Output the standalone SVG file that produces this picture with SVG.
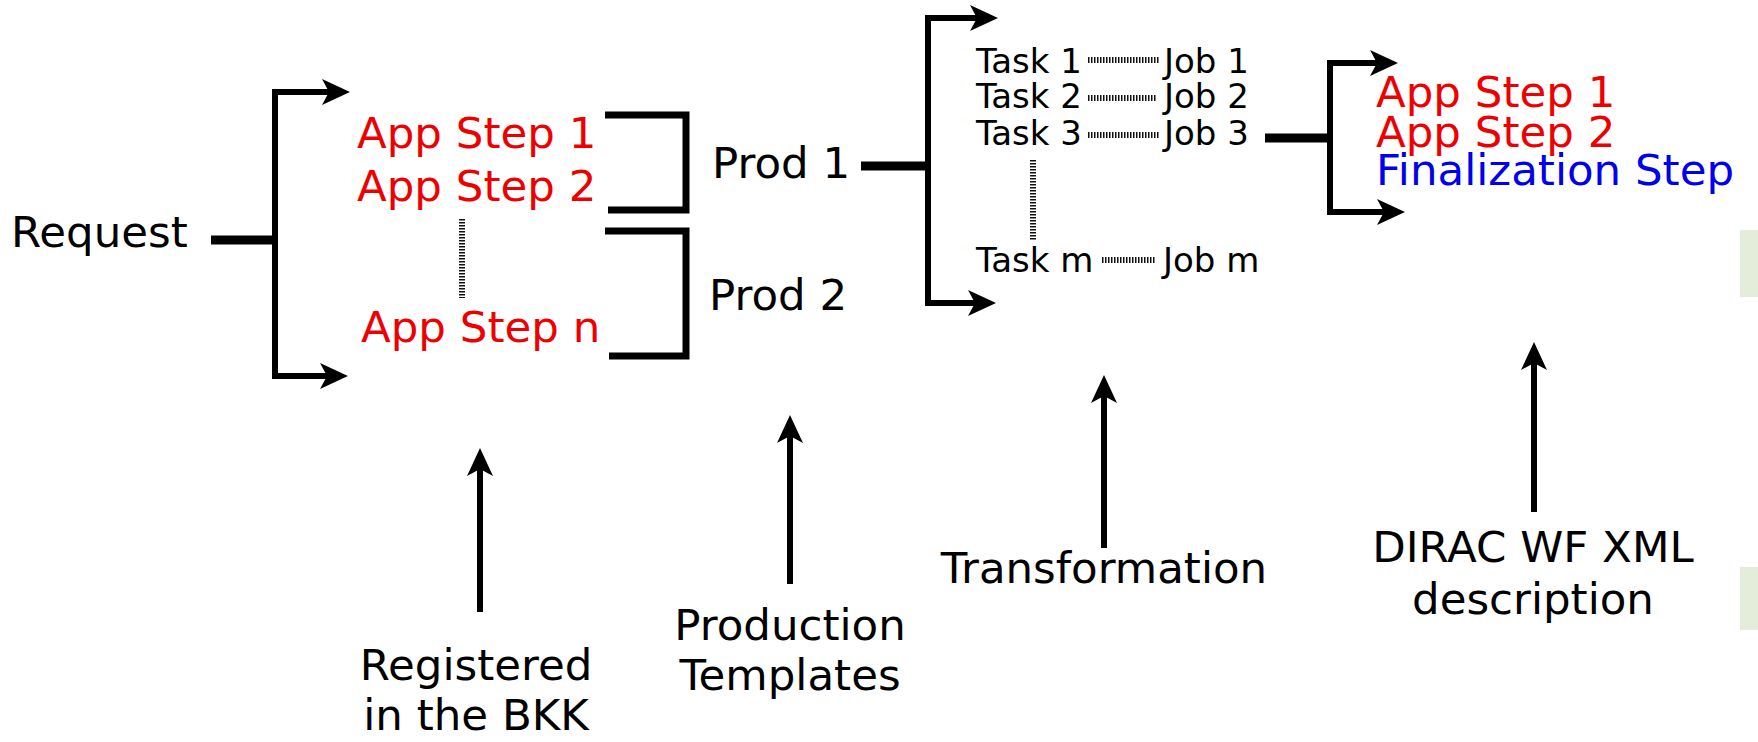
<svg xmlns="http://www.w3.org/2000/svg" width="1758" height="742" viewBox="0 0 1758 742">
  <style>
    text { font-family: "DejaVu Sans", "Liberation Sans", sans-serif; }
    .big { font-size: 43.5px; fill: #000; }
    .small { font-size: 34px; fill: #000; }
    .red { fill: #ee0000; }
    .blue { fill: #0000ee; }
    .mid { text-anchor: middle; }
    .wire { fill: none; stroke: #000; stroke-width: 6; stroke-linejoin: miter; stroke-linecap: butt; }
    .thick { fill: none; stroke: #000; stroke-width: 9; }
    .brace { fill: none; stroke: #000; stroke-width: 7; stroke-linejoin: miter; }
    .dots { fill: none; stroke: #111; stroke-width: 6; stroke-dasharray: 1.5 1.5; }
    .arrow { marker-end: url(#head); }
  </style>
  <defs>
    <marker id="head" markerUnits="userSpaceOnUse" orient="auto" overflow="visible" refX="0" refY="0" markerWidth="40" markerHeight="40">
      <path d="M20,0 L-8,-13 L-1,0 L-8,13 Z" fill="#000"/>
    </marker>
  </defs>

  <!-- side panels -->
  <rect x="1740" y="230" width="18" height="67" fill="#e4ecda"/>
  <rect x="1740" y="567" width="18" height="63" fill="#e4ecda"/>

  <g id="connectors">
    <!-- request fan-out -->
    <path class="thick" d="M211,240 H276"/>
    <path class="wire arrow" d="M275,240 V92 H330"/>
    <path class="wire arrow" d="M275,240 V376 H328"/>
    <!-- app steps grouped into productions -->
    <path class="brace" d="M605,115 H686 V210 H608"/>
    <path class="brace" d="M605,231 H686 V356 H609"/>
    <!-- production fan-out -->
    <path class="thick" d="M861,166 H929"/>
    <path class="wire arrow" d="M928,166 V18 H978"/>
    <path class="wire arrow" d="M928,166 V303 H976"/>
    <!-- job fan-out -->
    <path class="thick" d="M1265,138 H1331"/>
    <path class="wire arrow" d="M1330,138 V63 H1378"/>
    <path class="wire arrow" d="M1330,138 V212 H1385"/>
    <!-- upward pointers -->
    <path class="wire arrow" d="M480,612 V468"/>
    <path class="wire arrow" d="M790,584 V435"/>
    <path class="wire arrow" d="M1104,548 V395"/>
    <path class="wire arrow" d="M1534,512 V362"/>
    <!-- dotted links -->
    <path class="dots" d="M462,219 V298"/>
    <path class="dots" d="M1088,60 H1160"/>
    <path class="dots" d="M1088,98 H1157"/>
    <path class="dots" d="M1088,135 H1160"/>
    <path class="dots" d="M1033,160 V240"/>
    <path class="dots" d="M1102,260 H1156"/>
  </g>

  <g id="request"><text class="big" x="11" y="247">Request</text></g>

  <g id="app-steps">
    <text class="big red" x="357" y="148">App Step 1</text>
    <text class="big red" x="357" y="201">App Step 2</text>
    <text class="big red" x="361" y="342">App Step n</text>
  </g>

  <g id="prod1"><text class="big" x="712" y="178">Prod 1</text></g>
  <g id="prod2"><text class="big" x="709" y="310">Prod 2</text></g>

  <g id="tasks">
    <text class="small" x="976" y="73">Task 1</text>
    <text class="small" x="976" y="108">Task 2</text>
    <text class="small" x="976" y="145">Task 3</text>
    <text class="small" x="976" y="272">Task m</text>
  </g>

  <g id="jobs">
    <text class="small" x="1164" y="73">Job 1</text>
    <text class="small" x="1164" y="108">Job 2</text>
    <text class="small" x="1164" y="145">Job 3</text>
    <text class="small" x="1163" y="272">Job m</text>
  </g>

  <g id="workflow">
    <text class="big red" x="1376" y="107">App Step 1</text>
    <text class="big red" x="1376" y="147">App Step 2</text>
    <text class="big blue" x="1376" y="185">Finalization Step</text>
  </g>

  <g id="label-bkk">
    <text class="big mid" x="476" y="680">Registered</text>
    <text class="big mid" x="476" y="730">in the BKK</text>
  </g>
  <g id="label-templates">
    <text class="big mid" x="790" y="640">Production</text>
    <text class="big mid" x="790" y="690">Templates</text>
  </g>
  <g id="label-transformation">
    <text class="big mid" x="1104" y="583">Transformation</text>
  </g>
  <g id="label-dirac">
    <text class="big mid" x="1533" y="562">DIRAC WF XML</text>
    <text class="big mid" x="1533" y="614">description</text>
  </g>
</svg>
